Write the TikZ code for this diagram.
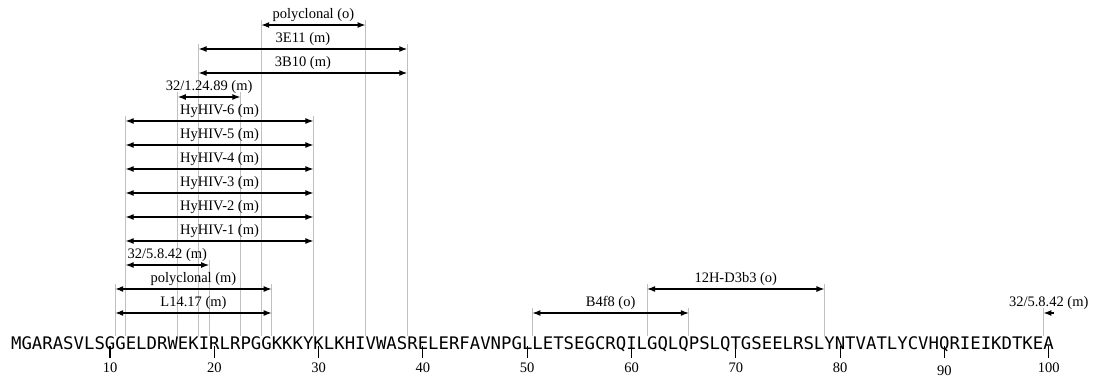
\documentclass[tikz,border=0pt]{standalone}
\usepackage{fontspec}
\setmainfont{Liberation Serif}
\newfontfamily\seqfont{DejaVu Sans Mono}
\usepackage{tikz}
\usetikzlibrary{arrows.meta}
\usepackage{xcolor}
\definecolor{guidegray}{RGB}{192,192,192}

\begin{document}
\begin{tikzpicture}[x=10.43pt, y=-1pt, >={Latex[length=8pt,width=6pt]},
  guide/.style={guidegray, line width=0.9pt},
  span/.style={<->, line width=1.2pt},
  lab/.style={font=\fontsize{14.5}{16}\selectfont, inner sep=0pt, anchor=base},
  tickmark/.style={line width=1.1pt}]
  \useasboundingbox (-0.5465,0) rectangle (104.344,380);

  % guide lines from each span end down to the sequence
  \foreach \r/\a/\b in {0/10.5/25.5, 0/50.5/65.5, 0/99.5/99.5, 1/10.5/25.5, 1/61.5/78.5,
      2/11.5/19.5, 3/11.5/29.5, 4/11.5/29.5, 5/11.5/29.5, 6/11.5/29.5, 7/11.5/29.5,
      8/11.5/29.5, 9/16.5/22.5, 10/18.5/38.5, 11/18.5/38.5, 12/24.5/34.5}
    \draw[guide] (\a,{308-24*\r}) -- (\a,336) (\b,{308-24*\r}) -- (\b,336);

  % epitope spans
  \foreach \r/\a/\b/\txt [count=\i] in {0/10.5/25.5/{L14.17 (m)}, 0/50.5/65.5/{B4f8 (o)},
      1/10.5/25.5/{polyclonal (m)}, 1/61.5/78.5/{12H-D3b3 (o)}, 2/11.5/19.5/{32/5.8.42 (m)},
      3/11.5/29.5/{HyHIV-1 (m)}, 4/11.5/29.5/{HyHIV-2 (m)}, 5/11.5/29.5/{HyHIV-3 (m)},
      6/11.5/29.5/{HyHIV-4 (m)}, 7/11.5/29.5/{HyHIV-5 (m)}, 8/11.5/29.5/{HyHIV-6 (m)},
      9/16.5/22.5/{32/1.24.89 (m)}, 10/18.5/38.5/{3B10 (m)}, 11/18.5/38.5/{3E11 (m)},
      12/24.5/34.5/{polyclonal (o)}}
    \draw[span] (\a,{313-24*\r}) -- (\b,{313-24*\r})
      node[lab, midway, yshift=6.5pt] (span\i) {\txt};
  \draw[<-, line width=1.2pt] (99.5,313) -- (100.5,313)
    node[lab, midway, yshift=6.5pt] (spanend) {32/5.8.42 (m)};

  % sequence and ruler
  \node[font=\seqfont\fontsize{17.32}{20}\selectfont, inner sep=0pt, anchor=base west]
    (seq) at (0.5,349) {MGARASVLSGGELDRWEKIRLRPGGKKKYKLKHIVWASRELERFAVNPGLLETSEGCRQILGQLQPSLQTGSEELRSLYNTVATLYCVHQRIEIKDTKEA};
  \foreach \t in {10,20,...,100} {
    \draw[tickmark] (\t,346) -- (\t,358);
    \node[lab] (num\t) at (\t,{372+3*(\t==90)}) {\t};
  }
\end{tikzpicture}
\end{document}
